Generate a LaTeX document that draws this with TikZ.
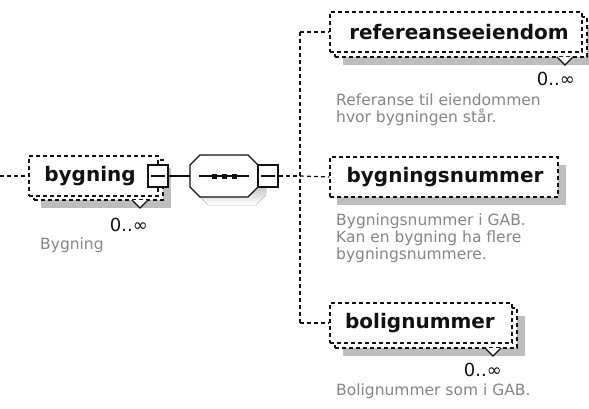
\documentclass[tikz,border=0pt]{standalone}
\usepackage{fontspec}
\setmainfont{DejaVu Sans}
\usetikzlibrary{calc}
\definecolor{shade}{HTML}{BDBDBD}
\definecolor{desc}{HTML}{858585}
\definecolor{ink}{HTML}{111111}
\tikzset{
  dsh/.style={dash pattern=on 4pt off 3pt, line width=1.2pt, draw=ink},
  solidln/.style={line width=1.2pt, draw=ink},
  elbox/.style={rectangle, draw=ink, dash pattern=on 4pt off 3pt, line width=1.2pt, fill=white, inner sep=0pt, minimum height=40pt},
  shadowbox/.style={rectangle, fill=shade, draw=none, inner sep=0pt, minimum height=40pt},
  namelbl/.style={font=\bfseries\fontsize{20}{21}\selectfont, text=ink, inner sep=0pt},
  desclbl/.style={font=\fontsize{15.5}{17}\selectfont, text=desc, align=left, anchor=north west, inner sep=0pt},
  occ/.style={font=\fontsize{18}{19}\selectfont, text=ink, anchor=east, inner sep=0pt},
  minusbox/.style={rectangle, draw=ink, line width=1.2pt, fill=white, minimum width=20pt, minimum height=22pt, inner sep=0pt},
}
\begin{document}
\begin{tikzpicture}[x=1pt, y=-1pt]
\useasboundingbox[fill=white] (0,0) rectangle (589,409);

% ---------------- main element: bygning ----------------
\node[shadowbox, minimum width=130pt] (bygS) at (106,188) {};
\node[elbox, minimum width=129pt] (bygB) at (98.5,180) {};
\node[elbox, minimum width=129pt] (bygF) at (93.5,176) {};
\node[namelbl] (bygT) at (90,176) {bygning};
\coordinate (bygV1) at (132,200);
\coordinate (bygV2) at (140,208);
\coordinate (bygV3) at (148,200);
\fill[white] (bygV1) -- (bygV2) -- (bygV3) -- cycle;
\draw[solidln] (bygV1) -- (bygV2) -- (bygV3);
\node[occ] (bygO) at (148,225) {0..∞};
\node[desclbl] (bygD) at (40,238) {Bygning};
\node[minusbox] (bygM) at (158,176) {};
\draw[solidln] ($(bygM.west)+(4,0)$) -- ($(bygM.east)+(-4,0)$);

% left incoming connector
\coordinate (inL) at (0,176);
\draw[dsh] (inL) -- (bygF.west);

% ---------------- sequence compositor ----------------
\fill[shade] (208,163) -- (256,163) -- (266,173) -- (266,195) -- (256,205) -- (208,205) -- (198,195) -- (198,173) -- cycle;
\node[draw=none, minimum width=68pt, minimum height=42pt, inner sep=0pt] (seq) at (224,176) {};
\filldraw[solidln, fill=white] (200,155) -- (248,155) -- (258,165) -- (258,187) -- (248,197) -- (200,197) -- (190,187) -- (190,165) -- cycle;
\draw[solidln] (199,176) -- (249,176);
\foreach \cx in {214.5,224.5,234.5} \fill[ink] (\cx-2.5,173.5) rectangle (\cx+2.5,178.5);
\node[minusbox] (seqM) at (268,176) {};
\draw[solidln] ($(seqM.west)+(4,0)$) -- ($(seqM.east)+(-4,0)$);
\draw[solidln] (bygM.east) -- (seq.west);

% ---------------- junctions ----------------
\coordinate (jt) at (300,32);
\coordinate (jm) at (300,176);
\coordinate (jb) at (300,323);
\draw[dsh] (seqM.east) -- (jm);
\draw[dsh] (jt) -- (jb);

% ---------------- refereanseeiendom ----------------
\node[shadowbox, minimum width=252pt] (refS) at (469,45) {};
\node[elbox, minimum width=252pt] (refB) at (461,37) {};
\node[elbox, minimum width=252pt] (refF) at (456,32) {};
\node[namelbl] (refT) at (459,32) {refereanseeiendom};
\coordinate (refV1) at (557,57);
\coordinate (refV2) at (565,65);
\coordinate (refV3) at (573,57);
\fill[white] (refV1) -- (refV2) -- (refV3) -- cycle;
\draw[solidln] (refV1) -- (refV2) -- (refV3);
\node[occ] (refO) at (575,79) {0..∞};
\node[desclbl] (refD) at (336,94) {Referanse til eiendommen\\hvor bygningen står.};
\draw[dsh] (jt) -- (refF.west);

% ---------------- bygningsnummer ----------------
\node[shadowbox, minimum width=229pt] (bnrS) at (451.5,185) {};
\node[elbox, minimum width=228pt] (bnrF) at (444,177) {};
\node[namelbl] (bnrT) at (445,177) {bygningsnummer};
\node[desclbl] (bnrD) at (336,214) {Bygningsnummer i GAB.\\Kan en bygning ha flere\\bygningsnummere.};
\draw[dsh] (jm) -- (bnrF.west);

% ---------------- bolignummer ----------------
\node[shadowbox, minimum width=182pt] (bolS) at (434,336) {};
\node[elbox, minimum width=182pt] (bolB) at (426,328) {};
\node[elbox, minimum width=182pt] (bolF) at (421,323) {};
\node[namelbl] (bolT) at (420,323) {bolignummer};
\coordinate (bolV1) at (485,348);
\coordinate (bolV2) at (493,356);
\coordinate (bolV3) at (501,348);
\fill[white] (bolV1) -- (bolV2) -- (bolV3) -- cycle;
\draw[solidln] (bolV1) -- (bolV2) -- (bolV3);
\node[occ] (bolO) at (502,370) {0..∞};
\node[desclbl] (bolD) at (336,384) {Bolignummer som i GAB.};
\draw[dsh] (jb) -- (bolF.west);
\end{tikzpicture}
\end{document}
